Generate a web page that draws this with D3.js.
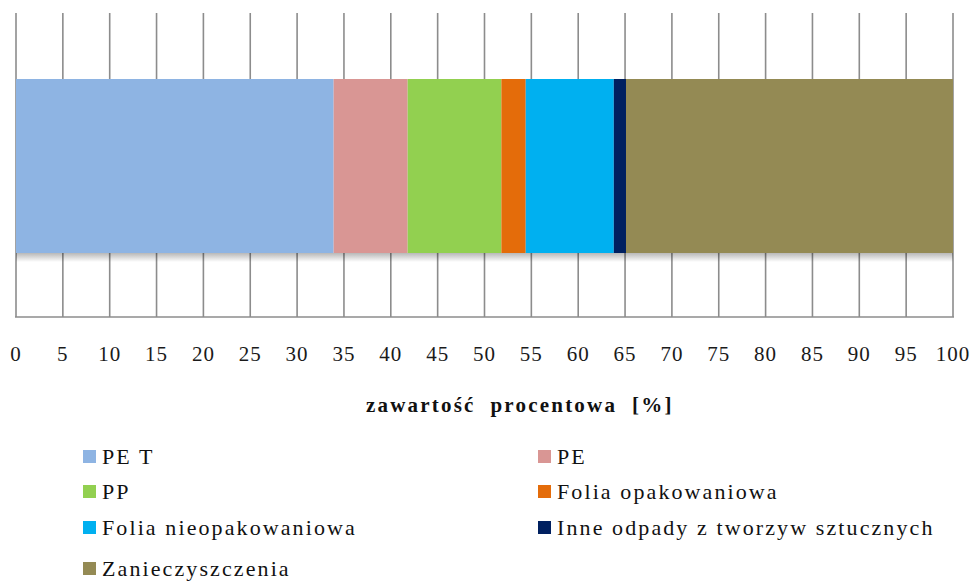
<!DOCTYPE html>
<html><head><meta charset="utf-8">
<script src="https://cdn.jsdelivr.net/npm/d3@7"></script>
<style>
body{margin:0;background:#fff;}
</style></head>
<body>
<svg id="c" width="973" height="582"></svg>
<script>
const categories = ["PET","PE","PP","Folia opakowaniowa","Folia nieopakowaniowa","Inne odpady z tworzyw sztucznych","Zanieczyszczenia"];
const legendLabels = ["PE T","PE","PP","Folia opakowaniowa","Folia nieopakowaniowa","Inne odpady z tworzyw sztucznych","Zanieczyszczenia"];
const values = [33.9, 7.9, 10.0, 2.6, 9.4, 1.3, 34.9];
const colors = ["#8EB4E3","#D99694","#92D050","#E46C0A","#00B0F0","#002060","#948A54"];
const tickValues = d3.range(0, 101, 5);
const axisTitle = "zawartość  procentowa  [%]";

(function(){
const FONT = "Liberation Serif, DejaVu Serif, serif";
const svg = d3.select("#c");
const x = d3.scaleLinear().domain([0,100]).range([16,953]);
const gTop = 13, gBottom = 317, barTop = 79, barBot = 253;

const defs = svg.append("defs");
const g1 = defs.append("linearGradient").attr("id","sh").attr("x1",0).attr("x2",0).attr("y1",0).attr("y2",1);
g1.append("stop").attr("offset","0%").attr("stop-color","#000").attr("stop-opacity",0.28);
g1.append("stop").attr("offset","100%").attr("stop-color","#000").attr("stop-opacity",0);

// grid
svg.append("g").selectAll("line").data(tickValues).join("line")
  .attr("x1",d=>x(d)).attr("x2",d=>x(d)).attr("y1",gTop).attr("y2",gBottom)
  .attr("stroke","#8c8c8c").attr("stroke-width",1.6);
svg.append("line").attr("x1",x(0)-1).attr("x2",x(100)+1).attr("y1",gBottom).attr("y2",gBottom)
  .attr("stroke","#8c8c8c").attr("stroke-width",1.6);

// stacked bar
let cum = 0;
const segs = values.map((v,i)=>{const s={start:cum,end:cum+v,i}; cum+=v; return s;});
svg.append("rect").attr("x",x(0)).attr("width",x(100)-x(0)).attr("y",barBot).attr("height",9).attr("fill","url(#sh)");
svg.append("g").selectAll("rect").data(segs).join("rect")
  .attr("x",d=>x(d.start)).attr("width",d=>x(d.end)-x(d.start))
  .attr("y",barTop).attr("height",barBot-barTop)
  .attr("fill",d=>colors[d.i]);

// tick labels
svg.append("g").selectAll("text").data(tickValues).join("text")
  .attr("x",d=>x(d)).attr("y",361).attr("text-anchor","middle")
  .style("font-family",FONT).style("font-size","21px").attr("letter-spacing",1).attr("fill","#1a1a1a")
  .text(d=>d);

// axis title
svg.append("text").attr("x",366).attr("y",412)
  .style("font-family",FONT).style("font-size","21px").style("font-weight","bold").attr("fill","#111")
  .attr("letter-spacing",2.2).style("white-space","pre").text(axisTitle);

// legend
const lx = [83, 538], ly = [457, 492, 528, 569];
const lg = svg.append("g").selectAll("g").data(legendLabels).join("g")
  .attr("transform",(d,i)=>`translate(${lx[i%2]},${ly[Math.floor(i/2)]})`);
lg.append("rect").attr("x",0).attr("y",-7).attr("width",13).attr("height",13).attr("fill",(d,i)=>colors[i]);
lg.append("text").attr("x",19).attr("y",7)
  .style("font-family",FONT).style("font-size","22px").attr("fill","#111").attr("letter-spacing",2.1)
  .style("white-space","pre").text(d=>d);
})();
</script>
</body></html>
